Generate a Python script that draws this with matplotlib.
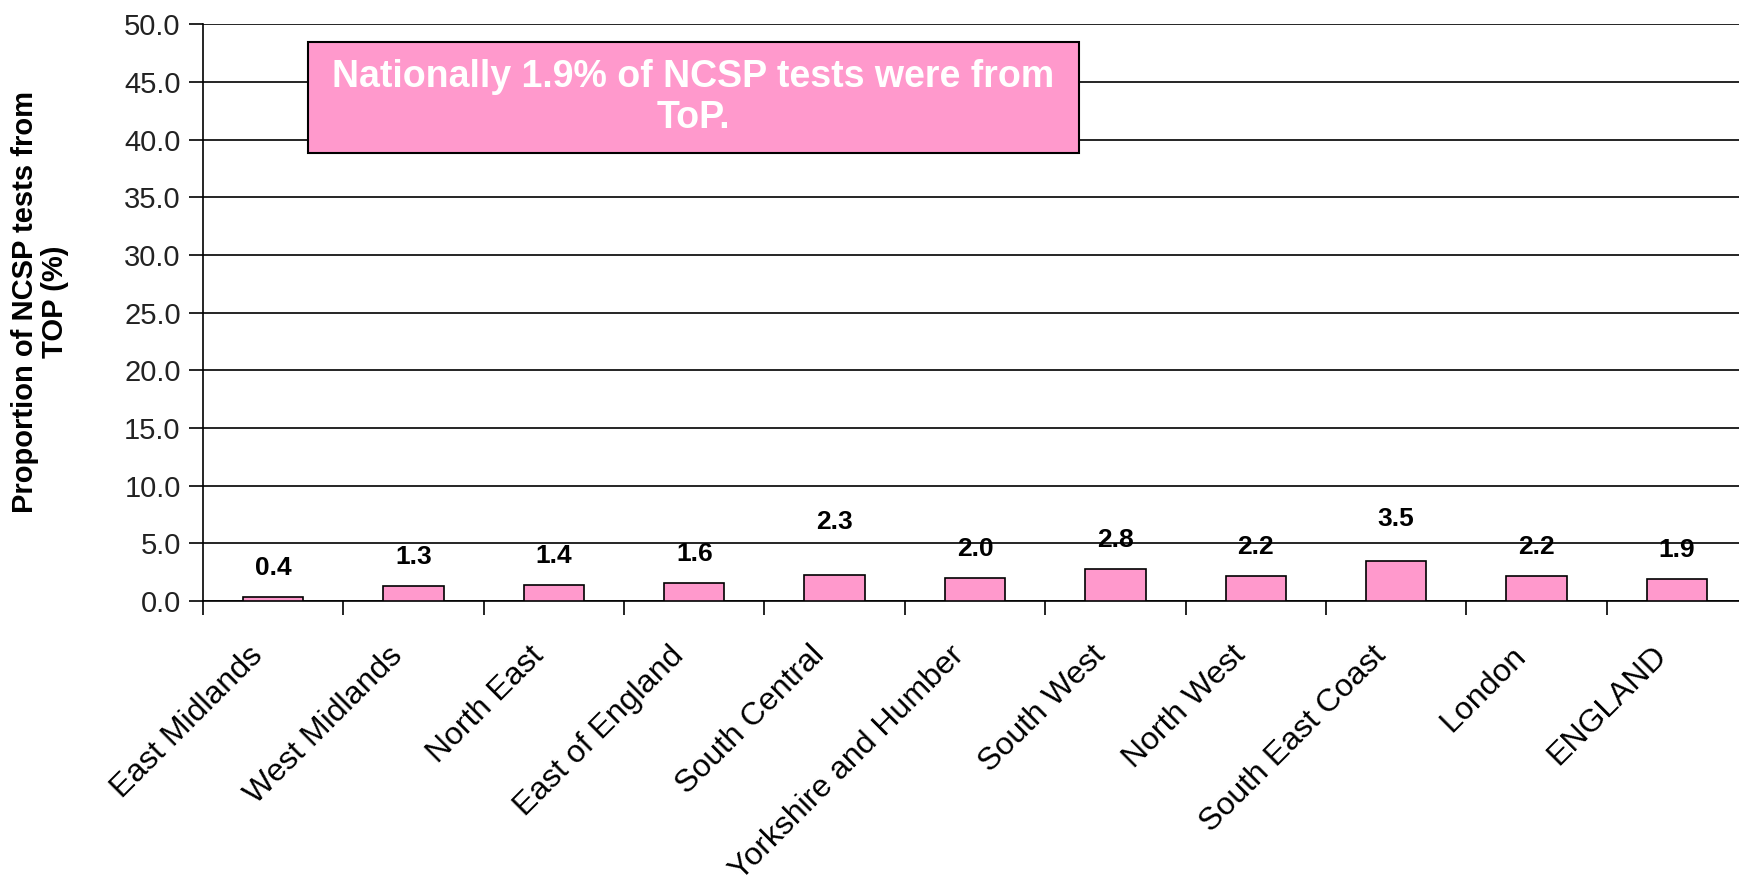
import matplotlib
matplotlib.use("Agg")
import matplotlib.pyplot as plt
from matplotlib.patches import Rectangle
from matplotlib.transforms import ScaledTranslation
import numpy as np

regions = ["East Midlands", "West Midlands", "North East", "East of England",
           "South Central", "Yorkshire and Humber", "South West", "North West",
           "South East Coast", "London", "ENGLAND"]
top_pct = [0.4, 1.3, 1.4, 1.6, 2.3, 2.0, 2.8, 2.2, 3.5, 2.2, 1.9]
y_ticks = [0, 5, 10, 15, 20, 25, 30, 35, 40, 45, 50]
note = "Nationally 1.9% of NCSP tests were from\nToP."

# the value labels in the original sit a little higher for two bars
label_nudge = [0, 0, 0, 0, 2.1, 0, 0, 0, 1.1, 0, 0]

plt.rcParams['font.family'] = ['Liberation Sans', 'DejaVu Sans']
pink = "#FF99CC"

fig = plt.figure(figsize=(17.39, 8.75), dpi=100)
ax = fig.add_axes([0.1167, 0.313, 0.888, 0.6594])

x = np.arange(len(regions))
ax.bar(x, top_pct, width=0.43, color=pink, edgecolor="black", linewidth=1.2, zorder=3)
for i, v in enumerate(top_pct):
    ax.text(i, v + 2.5 + label_nudge[i], f"{v:.1f}", ha="center", va="center",
            fontsize=19, fontweight="bold", zorder=4)

ax.set_ylim(0, 50)
ax.set_xlim(-0.5, len(regions) - 0.5)
ax.set_yticks(y_ticks)
ax.set_yticklabels([f"{t:.1f}" for t in y_ticks], fontsize=21, color="#222222")
ax.yaxis.grid(True, color="black", linewidth=1.2, zorder=0)
ax.set_axisbelow(True)

# category names at centres, tick marks between categories
ax.set_xticks(x)
ax.set_xticklabels(regions, rotation=45, ha="right", va="center",
                   rotation_mode="anchor", fontsize=23)
ax.tick_params(axis="x", which="major", length=0, pad=36)
shift = ScaledTranslation(-0.15, 0, fig.dpi_scale_trans)
for lab in ax.get_xticklabels():
    lab.set_transform(lab.get_transform() + shift)
ax.set_xticks(np.arange(-0.5, len(regions), 1.0), minor=True)
ax.tick_params(axis="x", which="minor", length=10, width=1.2, direction="out")
ax.tick_params(axis="y", length=10, width=1.2, direction="out", pad=6)

for s in ["top", "right"]:
    ax.spines[s].set_visible(False)
ax.spines["left"].set_linewidth(1.2)
ax.spines["bottom"].set_linewidth(1.2)

fig.text(0.023, 0.655, "Proportion of NCSP tests from\nTOP (%)", rotation=90,
         ha="center", va="center", multialignment="center", linespacing=1.12,
         fontsize=21, fontweight="bold")

box = Rectangle((0.1771, 0.825), 0.4434, 0.127, transform=fig.transFigure,
                facecolor=pink, edgecolor="black", linewidth=1.5, zorder=5)
fig.add_artist(box)
fig.text(0.3988, 0.8886, note, ha="center", va="center", multialignment="center",
         fontsize=27, fontweight="bold", color="white", zorder=6)

plt.savefig("out.png", dpi=100)
plt.close("all")
